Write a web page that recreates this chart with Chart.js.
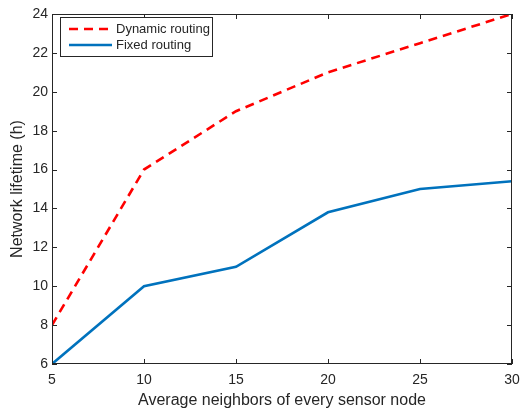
<!DOCTYPE html>
<html>
<head>
<meta charset="utf-8">
<script src="https://cdn.jsdelivr.net/npm/chart.js@4/dist/chart.umd.min.js"></script>
<style>
  html, body { margin: 0; padding: 0; background: #fff; }
  #wrap { width: 520px; height: 410px; position: relative; }
</style>
</head>
<body>
<div id="wrap"><canvas id="chart" width="520" height="410"></canvas></div>
<script>
// Data
const neighbors = [5, 10, 15, 20, 25, 30];
const dynamicLifetime = [8, 16, 19, 21, 22.5, 24];
const fixedLifetime = [6, 10, 11, 13.8, 15, 15.4];
const yTicks = [6, 8, 10, 12, 14, 16, 18, 20, 22, 24];
const xTicks = [5, 10, 15, 20, 25, 30];

const axisColor = '#262626';
const fontFamily = '"Liberation Sans", Arial, Helvetica, sans-serif';

// Box round the plot plus inward tick marks on all four sides
const boxPlugin = {
    id: 'boxTicks',
    afterDatasetsDraw(chart) {
        const { ctx, chartArea: a, scales } = chart;
        ctx.save();
        ctx.strokeStyle = axisColor;
        ctx.lineWidth = 1;
        ctx.strokeRect(a.left + 0.5, a.top + 0.5, a.right - a.left - 1, a.bottom - a.top - 1);
        ctx.beginPath();
        const len = 5;
        xTicks.forEach(v => {
            const x = Math.round(scales.x.getPixelForValue(v)) + 0.5;
            ctx.moveTo(x, a.bottom); ctx.lineTo(x, a.bottom - len);
            ctx.moveTo(x, a.top); ctx.lineTo(x, a.top + len);
        });
        yTicks.forEach(v => {
            const y = Math.round(scales.y.getPixelForValue(v)) + 0.5;
            ctx.moveTo(a.left, y); ctx.lineTo(a.left + len, y);
            ctx.moveTo(a.right, y); ctx.lineTo(a.right - len, y);
        });
        ctx.stroke();
        ctx.restore();
    },
    afterDraw(chart) {
        // legend box in the upper left corner
        const { ctx, chartArea: a } = chart;
        const bx = a.left + 8, by = a.top + 3, bw = 152, bh = 39;
        ctx.save();
        ctx.fillStyle = '#fff';
        ctx.fillRect(bx, by, bw, bh);
        ctx.strokeStyle = axisColor;
        ctx.lineWidth = 1;
        ctx.strokeRect(bx + 0.5, by + 0.5, bw, bh);
        const rows = chart.data.datasets;
        rows.forEach((ds, i) => {
            const y = by + 12 + i * 16;
            ctx.beginPath();
            ctx.strokeStyle = ds.borderColor;
            ctx.lineWidth = ds.borderWidth;
            ctx.setLineDash(ds.borderDash || []);
            ctx.moveTo(bx + 9, y);
            ctx.lineTo(bx + 52, y);
            ctx.stroke();
            ctx.setLineDash([]);
            ctx.fillStyle = axisColor;
            ctx.font = '13px ' + fontFamily;
            ctx.textBaseline = 'middle';
            ctx.fillText(ds.label, bx + 56, y);
        });
        ctx.restore();
    }
};

new Chart(document.getElementById('chart'), {
    type: 'line',
    data: {
        datasets: [
            {
                label: 'Dynamic routing',
                data: neighbors.map((x, i) => ({ x, y: dynamicLifetime[i] })),
                borderColor: '#ff0000',
                borderWidth: 2.6,
                borderDash: [9, 6],
                pointRadius: 0,
                tension: 0
            },
            {
                label: 'Fixed routing',
                data: neighbors.map((x, i) => ({ x, y: fixedLifetime[i] })),
                borderColor: '#0072bd',
                borderWidth: 2.6,
                pointRadius: 0,
                tension: 0
            }
        ]
    },
    options: {
        responsive: false,
        animation: false,
        layout: { padding: { left: 0, right: 8, top: 14, bottom: 0 } },
        plugins: {
            legend: { display: false },
            tooltip: { enabled: false }
        },
        scales: {
            x: {
                type: 'linear',
                min: 5,
                max: 30,
                afterBuildTicks: s => { s.ticks = xTicks.map(v => ({ value: v })); },
                afterFit: s => { s.height = 46; s.paddingLeft = 0; s.paddingRight = 0; },
                grid: { display: false, drawTicks: false },
                border: { display: false },
                ticks: { color: axisColor, padding: 8, font: { family: fontFamily, size: 14 } },
                title: {
                    display: true,
                    text: 'Average neighbors of every sensor node',
                    color: axisColor,
                    padding: { top: 1, bottom: 0 },
                    font: { family: fontFamily, size: 16 }
                }
            },
            y: {
                min: 6,
                max: 24,
                afterBuildTicks: s => { s.ticks = yTicks.map(v => ({ value: v })); },
                afterFit: s => { s.width = 52; s.paddingTop = 0; s.paddingBottom = 0; },
                grid: { display: false, drawTicks: false },
                border: { display: false },
                ticks: { color: axisColor, padding: 4, font: { family: fontFamily, size: 14 } },
                title: {
                    display: true,
                    text: 'Network lifetime (h)',
                    color: axisColor,
                    padding: { top: 8, bottom: 2 },
                    font: { family: fontFamily, size: 16 }
                }
            }
        }
    },
    plugins: [boxPlugin]
});
</script>
</body>
</html>
